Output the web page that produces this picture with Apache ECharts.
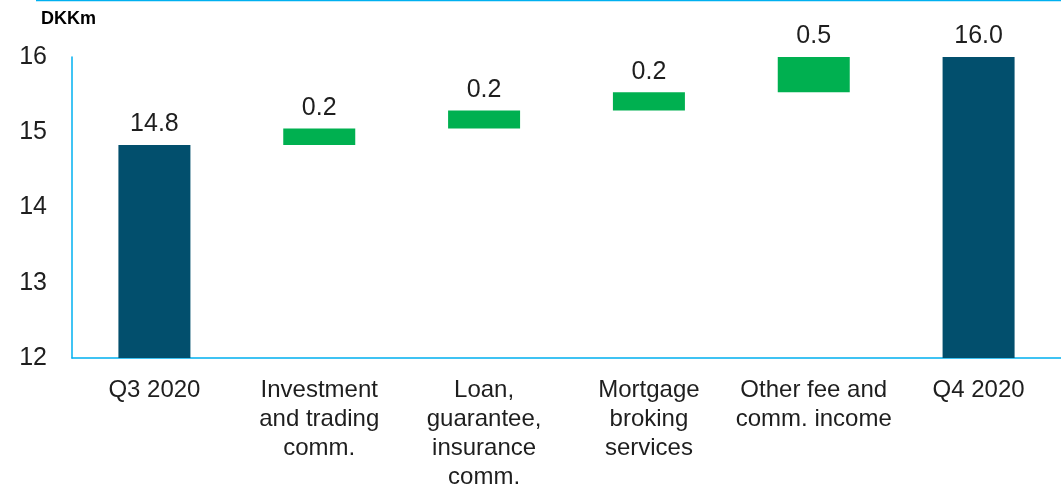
<!DOCTYPE html>
<html>
<head>
<meta charset="utf-8">
<script src="https://cdn.jsdelivr.net/npm/echarts@6/dist/echarts.min.js"></script>
<style>
  html, body { margin: 0; padding: 0; background: #fff; }
  #chart { width: 1061px; height: 492px; }
</style>
</head>
<body>
<div id="chart"></div>
<script>
// waterfall: Q3 total, four increments, Q4 total
const categories = [
  'Q3 2020',
  'Investment\nand trading\ncomm.',
  'Loan,\nguarantee,\ninsurance\ncomm.',
  'Mortgage\nbroking\nservices',
  'Other fee and\ncomm. income',
  'Q4 2020'
]
const totals = [14.83, null, null, null, null, 16.0]
const changes = [null, 0.22, 0.24, 0.24, 0.47, null]
const yTicks = [12, 13, 14, 15, 16]

// invisible base under each increment = running total so far
let running = 0
const base = categories.map((_, i) => {
  if (totals[i] != null) { running = totals[i]; return 0 }
  const b = running
  running += changes[i]
  return +b.toFixed(2)
})

const font = 'Liberation Sans, Arial, sans-serif'
const textColor = '#1e1e1e'
const axisBlue = '#00B0F0'

const chart = echarts.init(document.getElementById('chart'))
chart.setOption({
  animation: false,
  textStyle: { fontFamily: font },
  title: {
    text: 'DKKm',
    left: 36, top: 5,
    textStyle: { fontFamily: font, fontSize: 18, fontWeight: 'bold', color: '#000' }
  },
  graphic: [{
    type: 'line',
    shape: { x1: 36, y1: 0.5, x2: 1061, y2: 0.5 },
    style: { stroke: axisBlue, lineWidth: 1.5 }
  }],
  grid: { left: 72, right: 0, top: 57, bottom: 130, containLabel: false },
  xAxis: {
    type: 'category',
    data: categories,
    axisTick: { show: false },
    axisLine: { lineStyle: { color: axisBlue, width: 1.5 } },
    axisLabel: {
      interval: 0, margin: 18, color: textColor,
      fontSize: 24, lineHeight: 29, fontFamily: font
    }
  },
  yAxis: {
    type: 'value',
    min: yTicks[0], max: yTicks[yTicks.length - 1], interval: 1,
    splitLine: { show: false },
    axisTick: { show: false },
    axisLine: { show: true, lineStyle: { color: axisBlue, width: 1.5 } },
    axisLabel: { margin: 25, color: textColor, fontSize: 25, fontFamily: font, padding: [4, 0, 0, 0] }
  },
  series: [
    {
      name: 'base', type: 'bar', stack: 'w', barWidth: 72,
      itemStyle: { color: 'transparent' },
      silent: true,
      data: base
    },
    {
      name: 'total', type: 'bar', stack: 'w', barWidth: 72,
      itemStyle: { color: '#024F6D' },
      label: {
        show: true, position: 'top', distance: 8,
        color: textColor, fontSize: 25, fontFamily: font,
        formatter: p => p.value.toFixed(1)
      },
      data: totals.map(v => (v == null ? '-' : v))
    },
    {
      name: 'change', type: 'bar', stack: 'w', barWidth: 72,
      itemStyle: { color: '#00B050' },
      label: {
        show: true, position: 'top', distance: 8,
        color: textColor, fontSize: 25, fontFamily: font,
        formatter: p => p.value.toFixed(1)
      },
      data: changes.map(v => (v == null ? '-' : v))
    }
  ]
})
</script>
</body>
</html>
